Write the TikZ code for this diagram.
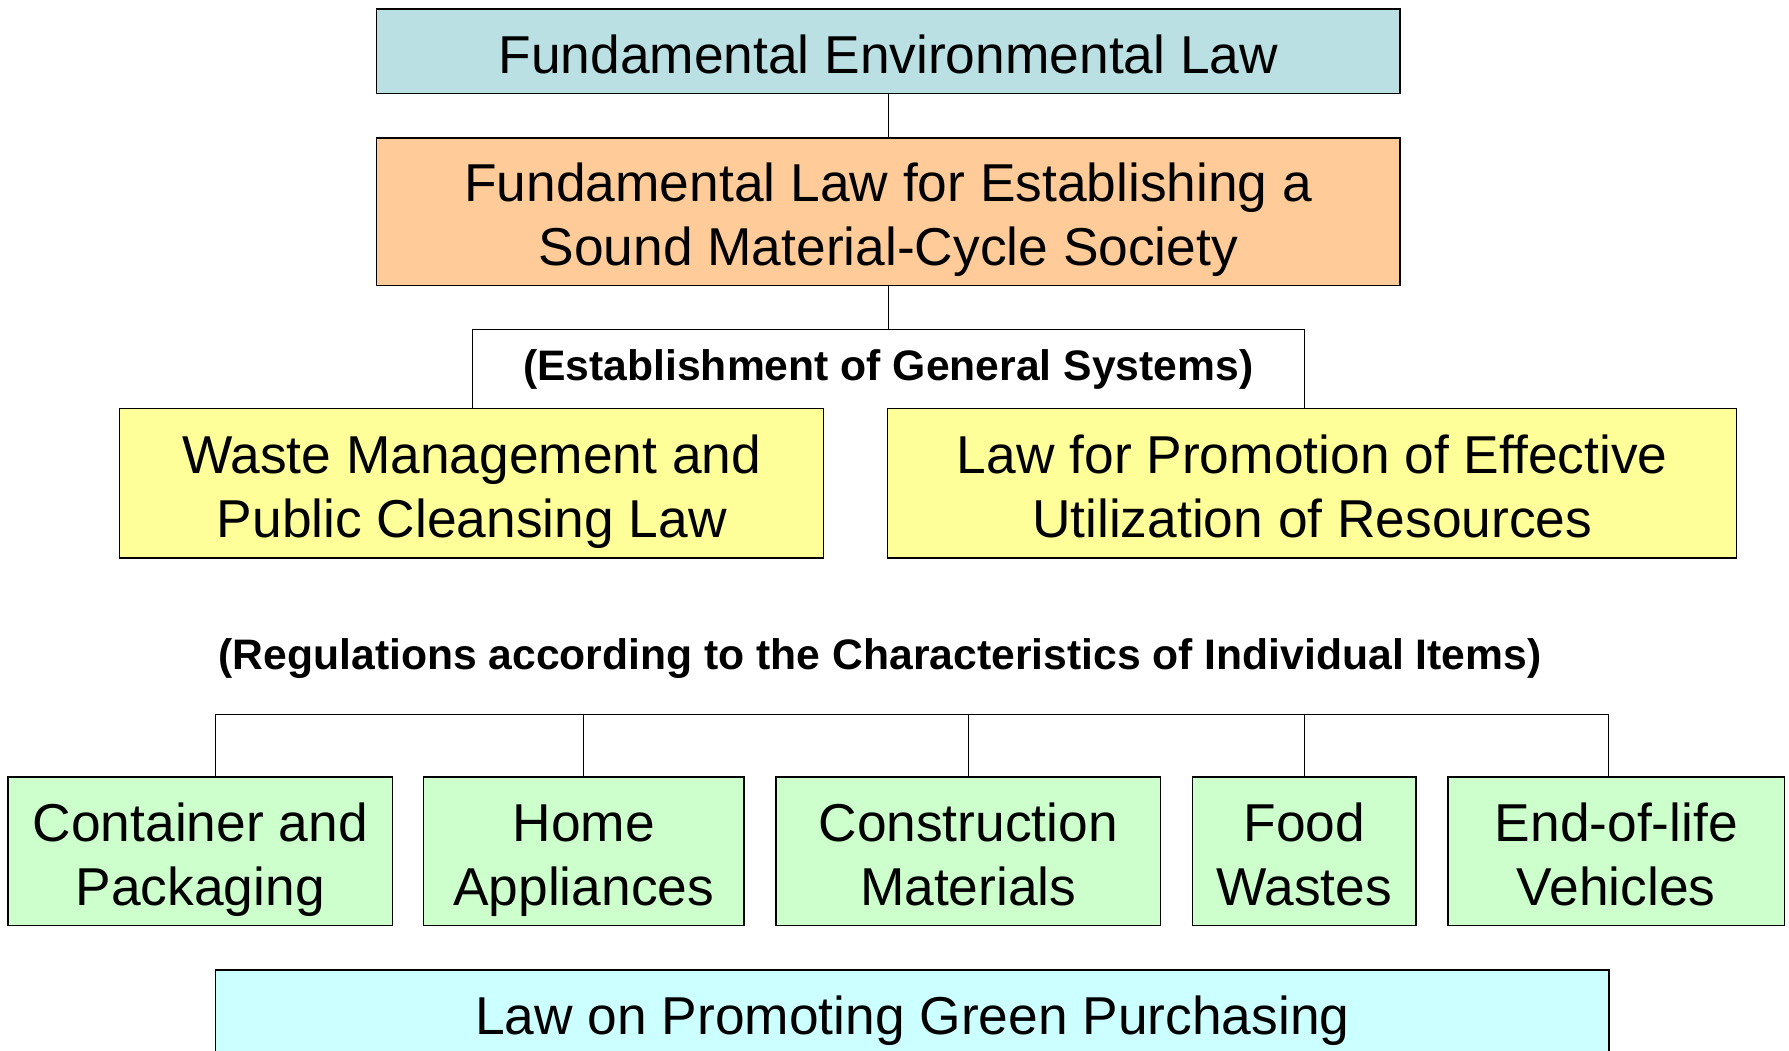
\documentclass[tikz,border=0pt]{standalone}
\usepackage{fontspec}
\setmainfont{Liberation Sans}
\usepackage{xcolor}

\definecolor{envblue}{RGB}{186,224,227}
\definecolor{cyclepeach}{RGB}{255,204,153}
\definecolor{sysyellow}{RGB}{255,255,153}
\definecolor{itemgreen}{RGB}{204,255,204}
\definecolor{greencyan}{RGB}{204,255,255}

\newcommand{\lawtop}{\rule{0pt}{44pt}}
\newcommand{\lawbot}{\rule[-11.2pt]{0pt}{11.2pt}}

\begin{document}
\begin{tikzpicture}[x=0.75pt,y=0.75pt,yscale=-1,xscale=1,
  lawbox/.style={draw=black,line width=1pt,inner sep=0pt,outer sep=0pt,align=center,
    font=\fontsize{40}{48}\selectfont},
  headtext/.style={inner sep=0pt,outer sep=0pt,align=center,font=\fontsize{32}{38}\selectfont\bfseries},
  link/.style={draw=black,line width=0.8pt}]
\useasboundingbox (0,0) rectangle (1789,1050);
\clip (0,0) rectangle (1789,1050);

%Shape: Rectangle [top law]
\node [lawbox,fill=envblue,minimum width=767.6pt,minimum height=63.4pt] (env) at (888.3,51.4) {\lawtop Fundamental Environmental Law\lawbot};
%Shape: Rectangle [cycle society]
\node [lawbox,fill=cyclepeach,minimum width=767.6pt,minimum height=110.4pt] (sound) at (888.3,211.7) {\lawtop Fundamental Law for Establishing a\\Sound Material-Cycle Society\lawbot};

% Text Node
\node [headtext,minimum width=623.9pt,minimum height=59pt] (general) at (888.3,369.2) {(Establishment of General Systems)};

%Shape: Rectangle [general systems]
\node [lawbox,fill=sysyellow,minimum width=528pt,minimum height=112.1pt] (waste) at (471.8,483.2) {\lawtop Waste Management and\\Public Cleansing Law\lawbot};
\node [lawbox,fill=sysyellow,minimum width=636.7pt,minimum height=112.1pt] (resources) at (1312.2,483.2) {\lawtop Law for Promotion of Effective\\Utilization of Resources\lawbot};

% Text Node
\node [headtext] (regulations) at (880,658.4) {(Regulations according to the Characteristics of Individual Items)};

%Shape: Rectangle [individual items]
\node [lawbox,fill=itemgreen,minimum width=288.4pt,minimum height=111.3pt] (container) at (200.3,851.2) {\lawtop Container and\\Packaging\lawbot};
\node [lawbox,fill=itemgreen,minimum width=240.5pt,minimum height=111.3pt] (appliances) at (583.7,851.2) {\lawtop Home\\Appliances\lawbot};
\node [lawbox,fill=itemgreen,minimum width=288.4pt,minimum height=111.3pt] (construction) at (968.2,851.2) {\lawtop Construction\\Materials\lawbot};
\node [lawbox,fill=itemgreen,minimum width=167.7pt,minimum height=111.3pt] (food) at (1304.2,851.2) {\lawtop Food\\Wastes\lawbot};
\node [lawbox,fill=itemgreen,minimum width=252.5pt,minimum height=111.3pt] (vehicles) at (1616.3,851.2) {\lawtop End-of-life\\Vehicles\lawbot};

%Shape: Rectangle [green purchasing]
\node [lawbox,fill=greencyan,minimum width=1044.9pt,minimum height=64.5pt] (purchasing) at (912.3,1013) {\lawtop Law on Promoting Green Purchasing\lawbot};

%Straight Lines
\coordinate (bus) at (0,714.3);
\draw [link] (env.south) -- (sound.north);
\draw [link] (sound.south) -- (general.north);
\draw [link] (waste.north -| general.west) |- (general.north) -| (resources.north -| general.east);
\draw [link] (container.north -| purchasing.west) -- (bus -| purchasing.west) -- (bus -| purchasing.east) -- (vehicles.north -| purchasing.east);
\foreach \item in {appliances,construction,food}
  \draw [link] (\item.north) -- (\item.north |- bus);

\end{tikzpicture}
\end{document}
